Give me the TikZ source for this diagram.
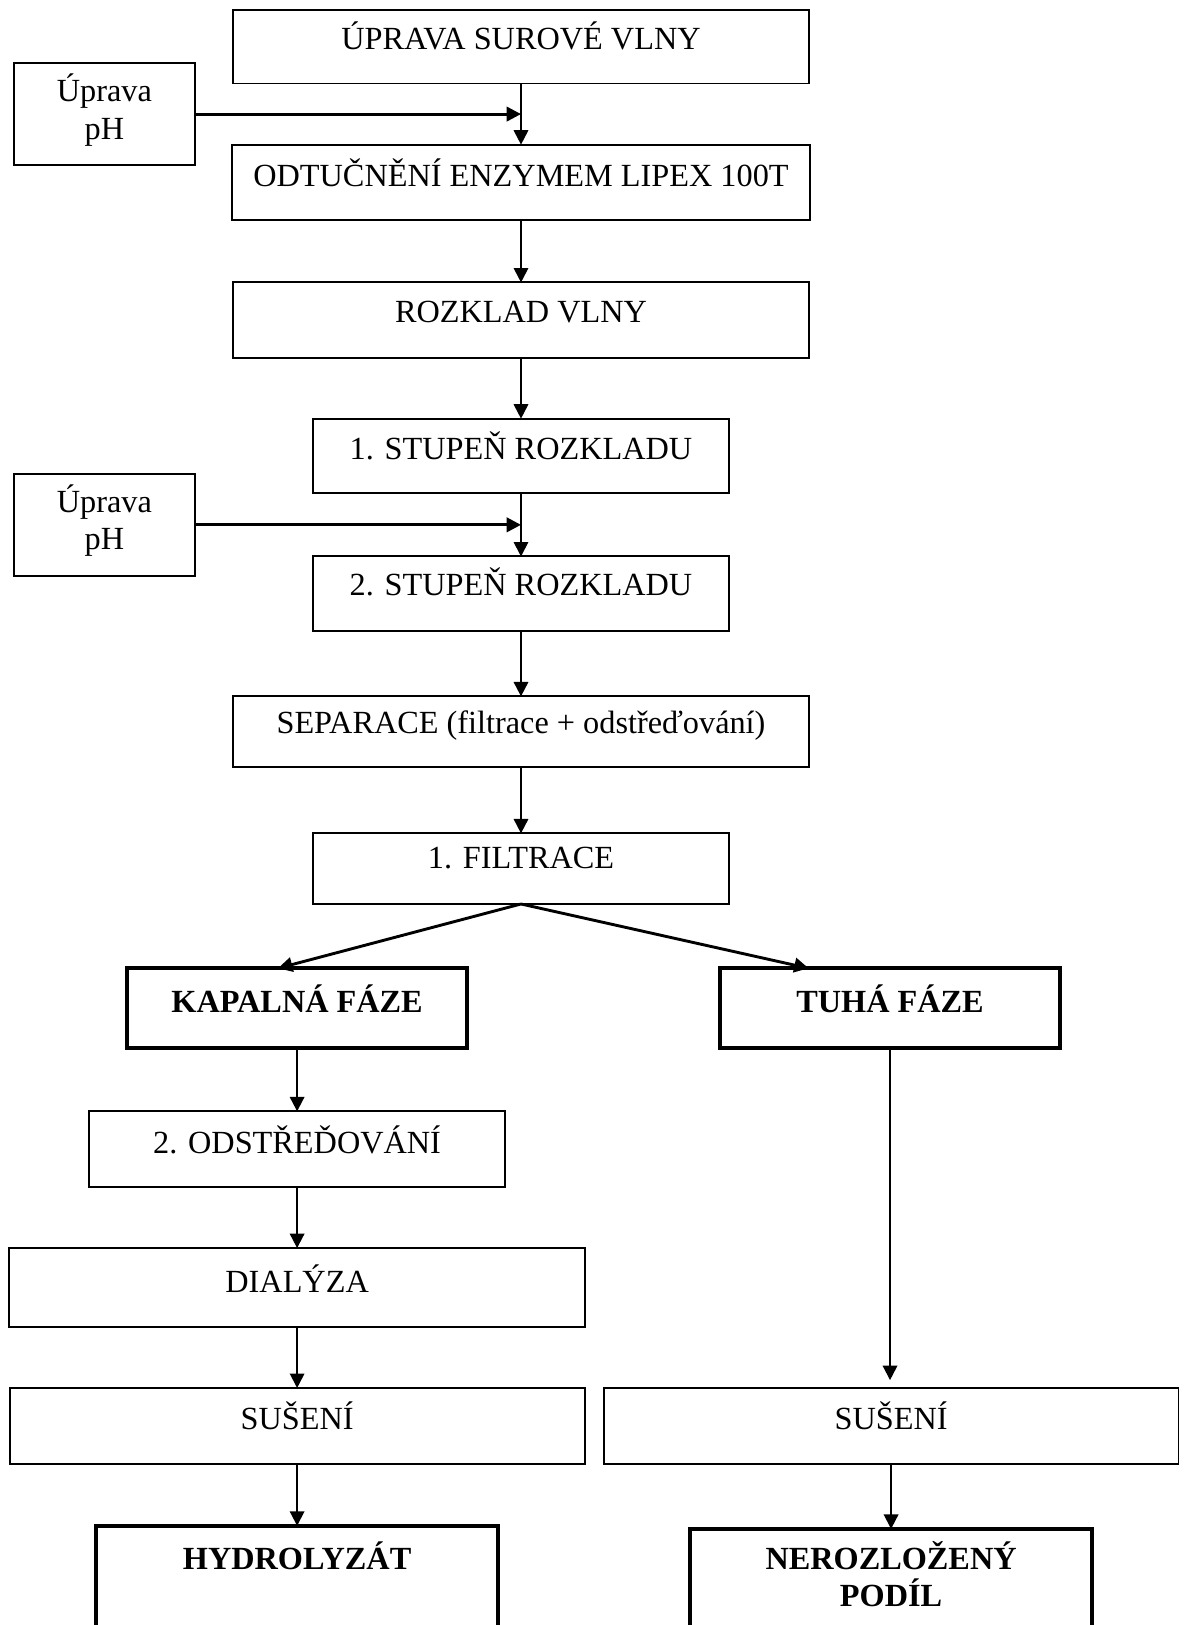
\documentclass[tikz,border=0pt]{standalone}
\usepackage{fontspec}
\setmainfont{Liberation Serif}
\usetikzlibrary{positioning, arrows.meta}

\begin{document}
\begin{tikzpicture}[
  x=0.381pt, y=-0.381pt,
  font=\fontsize{12.3pt}{14.2pt}\selectfont,
  stepbox/.style={rectangle, draw, line width=0.75pt, minimum width=219.5pt,
                  inner xsep=2pt, inner ysep=0pt, outer sep=0pt,
                  text height=15.4pt, text depth=13.2pt},
  narrowbox/.style={stepbox, minimum width=158.5pt},
  phasebox/.style={stepbox, line width=1.6pt, minimum width=129.5pt,
                   font=\fontsize{12.3pt}{14.2pt}\selectfont\bfseries,
                   text height=17pt, text depth=13.4pt},
  productbox/.style={phasebox, minimum width=153pt, align=center,
                     text height=16.6pt, text depth=44pt},
  sidebox/.style={rectangle, draw, line width=0.75pt, minimum width=69.1pt,
                  minimum height=39.1pt, align=center, inner sep=0pt,
                  text depth=5.6pt},
  flow/.style={-{Triangle[length=5.5pt, width=5.5pt]}, line width=0.75pt},
  feed/.style={flow, line width=1.1pt}
]
\clip (0,0) rectangle (1184,1625);

% Main line of treatment steps (top to bottom).
\node[stepbox, anchor=north, text height=15pt, text depth=13pt]
  (raw) at (521,10) {ÚPRAVA SUROVÉ VLNY};
\node[stepbox, below=23.3pt of raw, minimum width=220.2pt,
      text height=15.8pt, text depth=13pt]
  (degrease) {ODTUČNĚNÍ ENZYMEM LIPEX 100T};
\node[stepbox, below=23.7pt of degrease] (decomp) {ROZKLAD VLNY};
\node[narrowbox, below=23.3pt of decomp, text depth=13pt]
  (stage1) {1. STUPEŇ ROZKLADU};
\node[narrowbox, below=24.1pt of stage1, text height=15pt, text depth=13.4pt]
  (stage2) {2. STUPEŇ ROZKLADU};
\node[stepbox, below=24.9pt of stage2, text height=14.2pt, text depth=12.7pt]
  (sep) {SEPARACE (filtrace + odstřeďování)};
\node[narrowbox, below=25.3pt of sep, text height=13.4pt, text depth=13.5pt]
  (filt) {1. FILTRACE};

% pH adjustment fed in between two steps.
\path (raw.south) -- coordinate (j1) (degrease.north);
\path (stage1.south) -- coordinate (j2) (stage2.north);
\node[sidebox, left=123.8pt of j1] (ph1) {Úprava\\pH};
\node[sidebox, left=123.8pt of j2] (ph2) {Úprava\\pH};

% Two phases after filtration.
\node[phasebox, below=24.5pt of filt, xshift=-85.3pt] (liquid) {KAPALNÁ FÁZE};
\node[phasebox, below=24.5pt of filt, xshift=140.6pt] (solid)  {TUHÁ FÁZE};

% Liquid branch, then both dryings and products.
\node[narrowbox, below=24.1pt of liquid, text height=16.2pt, text depth=12.6pt]
  (centr) {2. ODSTŘEĎOVÁNÍ};
\node[stepbox, below=23.3pt of centr, text height=17pt, text depth=13pt]
  (dial) {DIALÝZA};
\node[stepbox, below=23.3pt of dial, minimum width=219pt,
      text height=15.8pt, text depth=13pt] (dryL) {SUŠENÍ};
\node[stepbox, right=7.3pt of dryL, minimum width=219pt,
      text height=15.8pt, text depth=13pt] (dryR) {SUŠENÍ};
\node[productbox, below=23.7pt of dryL]  (hydro)   {HYDROLYZÁT};
\node[productbox, below=24.9pt of dryR, text height=29.6pt]
  (residue) {NEROZLOŽENÝ\\PODÍL};

\draw[flow] (raw)      -- (degrease);
\draw[flow] (degrease) -- (decomp);
\draw[flow] (decomp)   -- (stage1);
\draw[flow] (stage1)   -- (stage2);
\draw[flow] (stage2)   -- (sep);
\draw[flow] (sep)      -- (filt);
\draw[feed] (ph1)      -- (j1);
\draw[feed] (ph2)      -- (j2);
\draw[feed] (filt.south) -- ([xshift=-7.3pt]liquid.north);
\draw[feed] (filt.south) -- ([xshift=-31pt]solid.north);
\draw[flow] (liquid)   -- (centr);
\draw[flow] (centr)    -- (dial);
\draw[flow] (dial)     -- (dryL);
\draw[flow] (dryL)     -- (hydro);
\draw[flow, shorten >=3pt] (solid) -- (solid |- dryR.north);
\draw[flow] (dryR)     -- (residue);

\end{tikzpicture}
\end{document}
